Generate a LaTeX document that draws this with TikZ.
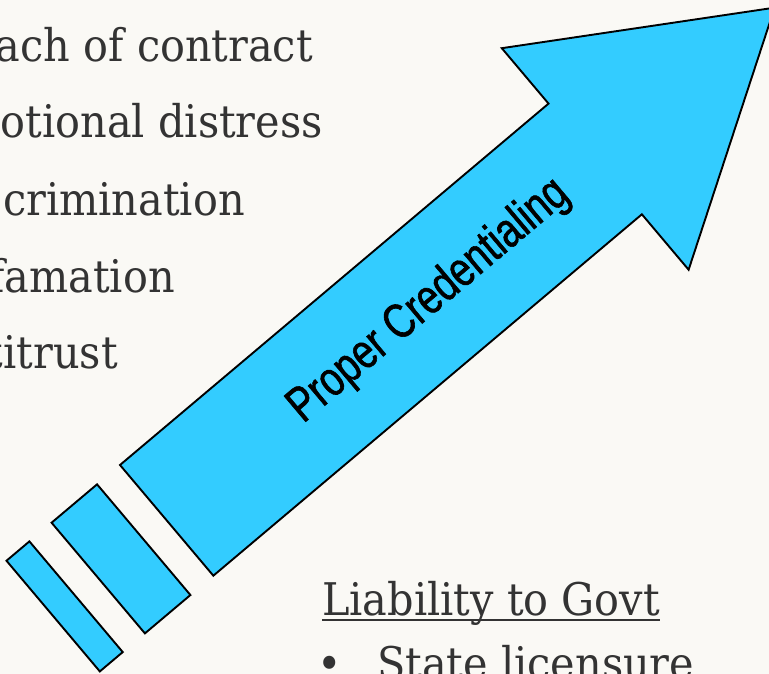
\documentclass[tikz,border=0pt]{standalone}
\usepackage{fontspec}
\setmainfont[FakeStretch=0.92]{DejaVu Serif}
\newfontfamily\labelfont[FakeStretch=0.78,FakeBold=1.2]{Liberation Sans}
\definecolor{paper}{HTML}{FAF9F5}
\definecolor{ink}{HTML}{333333}
\definecolor{sky}{HTML}{33CCFF}
\tikzset{
  body/.style={fill=sky, draw=black, line width=1.9pt},
  bodytext/.style={text=ink, inner sep=0pt, font=\fontsize{45}{54}\selectfont},
  arrowlabel/.style={text=black, inner sep=0pt, font=\labelfont\fontsize{49}{58}\selectfont},
}
\begin{document}
\begin{tikzpicture}[x=1pt,y=-1pt]
  % page area
  \fill[paper] (0,0) rectangle (769,674);
  \useasboundingbox (0,0) rectangle (769,674);

  % list running off the left edge
  \node[bodytext, anchor=base east] (l1) at (313,62)  {ach of contract};
  \node[bodytext, anchor=base east] (l2) at (323,138) {otional distress};
  \node[bodytext, anchor=base east] (l3) at (245,215) {crimination};
  \node[bodytext, anchor=base east] (l4) at (175,292) {famation};
  \node[bodytext, anchor=base east] (l5) at (118,368) {titrust};

  % heading and first bullet at the bottom right
  \node[bodytext, anchor=base west] (gov) at (322,615) {Liability to Govt};
  \draw[ink, line width=2pt] ([yshift=-4.5pt]gov.base west) -- ([yshift=-4.5pt]gov.base east);
  \node[bodytext, anchor=base] (dot) at (330,679) {•};
  \node[bodytext, anchor=base west] (st) at (377,679) {State licensure};

  % rising arrow with two trailing bars, drawn in its own frame
  \begin{scope}[shift={(120,465)}, rotate=40.14]
    \draw[body] (-148.5,0) rectangle (-118.5,144.8);
    \draw[body] (-89.5,0) rectangle (-30,144.8);
    \draw[body] (0,0) -- (560.6,0) -- (560.6,-72.5) -- (795.3,72.4)
      -- (560.6,217.3) -- (560.6,144.8) -- (0,144.8) -- cycle;
    \node[arrowlabel, rotate=40.14] (lbl) at (342,74) {Proper Credentialing};
  \end{scope}
\end{tikzpicture}
\end{document}
